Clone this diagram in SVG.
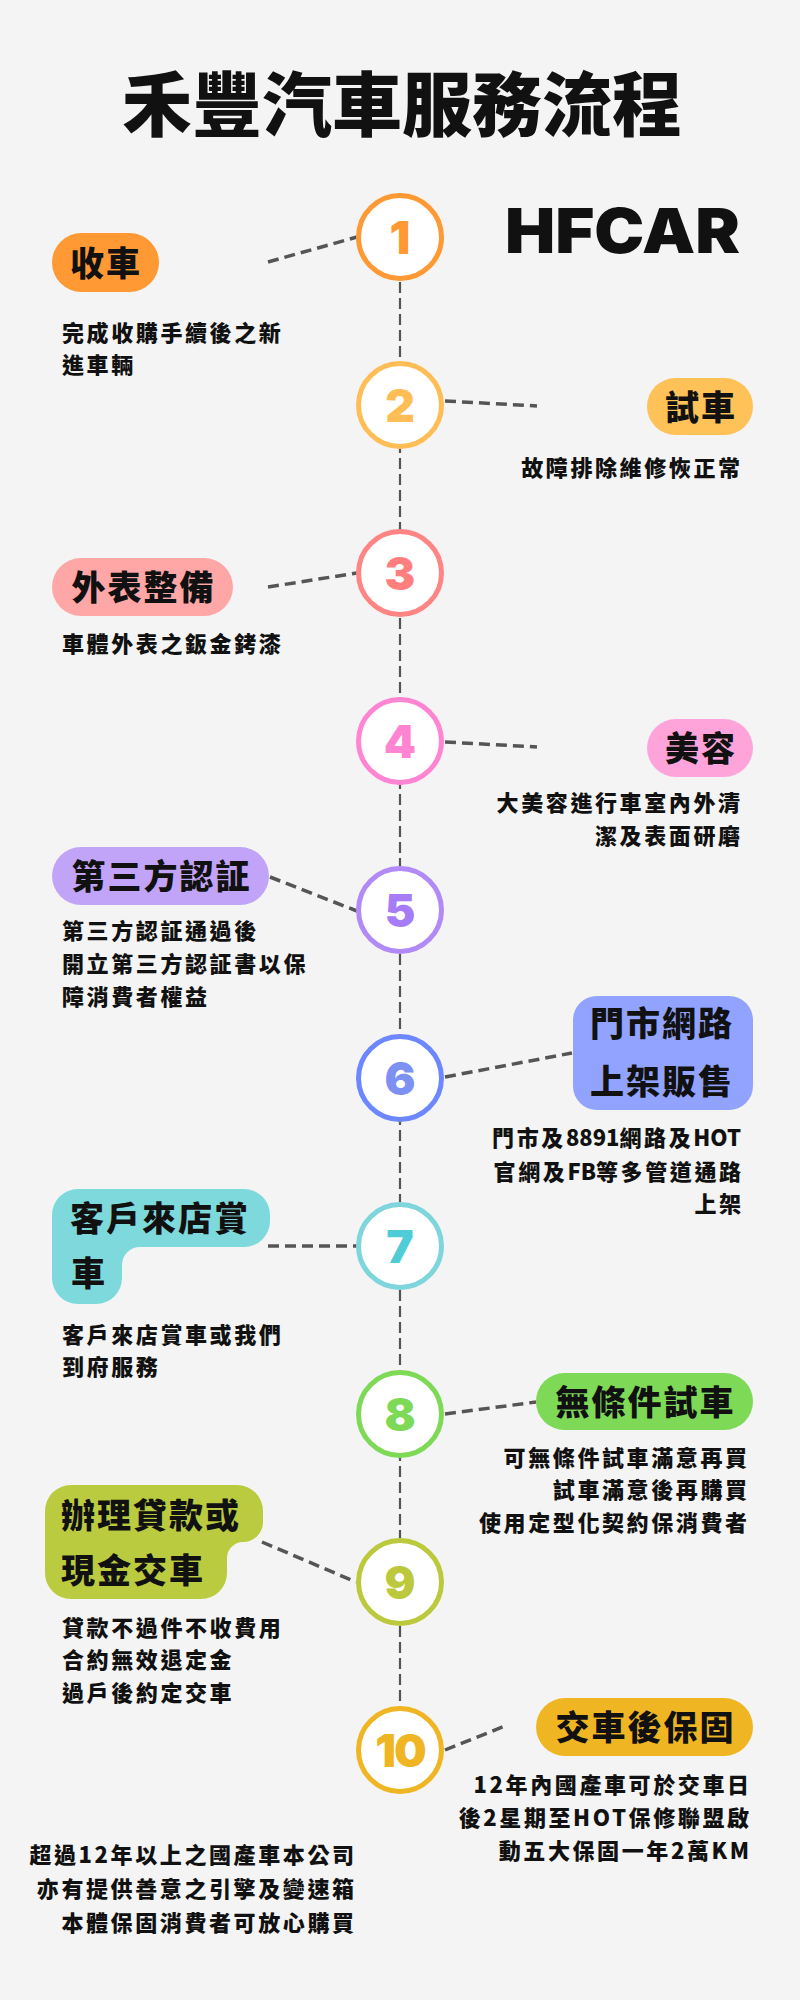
<svg xmlns="http://www.w3.org/2000/svg" width="800" height="2000" viewBox="0 0 800 2000">
<style>
.cjk{font-family:"Noto Sans CJK TC","Noto Sans CJK SC",sans-serif;font-weight:900;fill:#111}
.title{font-size:70px}
.lab{font-size:34px;letter-spacing:2px;text-anchor:middle}
.labl{font-size:34px;letter-spacing:2px}
.desc{font-size:22px;letter-spacing:2.6px}
.end{text-anchor:end}
.tight{letter-spacing:0px}
.num{font-family:Inter,"Liberation Sans",sans-serif;font-weight:900;font-size:46px;text-anchor:middle}
.circ{fill:#fff;stroke-width:5}
.conn{stroke:#555;stroke-width:3.5;stroke-dasharray:11 6;fill:none}
.vline{stroke:#555;stroke-width:2.2;stroke-dasharray:11 5;fill:none}
</style>
<rect width="800" height="2000" fill="#f4f4f4"/>
<text class="cjk title" x="402" y="131" text-anchor="middle">禾豐汽車服務流程</text>
<text x="505" y="253" font-family="Inter,'Liberation Sans',sans-serif" font-weight="900" font-size="62" fill="#111" textLength="235" lengthAdjust="spacingAndGlyphs">HFCAR</text>

<g id="connectors">
<line class="vline" x1="400" y1="282" x2="400" y2="1707"/>
<line class="conn" x1="268" y1="262" x2="357" y2="237"/>
<line class="conn" x1="445" y1="401" x2="537" y2="406"/>
<line class="conn" x1="268" y1="587" x2="357" y2="573"/>
<line class="conn" x1="445" y1="742" x2="537" y2="747"/>
<line class="conn" x1="270" y1="877" x2="357" y2="911"/>
<line class="conn" x1="445" y1="1077" x2="572" y2="1053"/>
<line class="conn" x1="268" y1="1246" x2="357" y2="1246"/>
<line class="conn" x1="445" y1="1414" x2="536" y2="1402"/>
<line class="conn" x1="262" y1="1542" x2="356" y2="1582"/>
<line class="conn" x1="445" y1="1750" x2="505" y2="1726"/>
</g>

<g id="step1">
<circle class="circ" cx="400" cy="237" r="41.5" stroke="#FF9933"/>
<text class="num" x="400" y="254" fill="#FF9933">1</text>
<rect x="52" y="233" width="107" height="59" rx="29.5" fill="#FF9933"/>
<text class="cjk lab" x="106" y="276">收車</text>
<text class="cjk desc" x="62" y="341">完成收購手續後之新</text>
<text class="cjk desc" x="62" y="373">進車輛</text>
</g>

<g id="step2">
<circle class="circ" cx="400" cy="405" r="41.5" stroke="#FFBE55"/>
<text class="num" x="400" y="422" fill="#FFBE55">2</text>
<rect x="647" y="378" width="106" height="57" rx="28.5" fill="#FFC259"/>
<text class="cjk lab" x="701" y="419.5">試車</text>
<text class="cjk desc end" x="742.6" y="476">故障排除維修恢正常</text>
</g>

<g id="step3">
<circle class="circ" cx="400" cy="573" r="41.5" stroke="#FF8585"/>
<text class="num" x="400" y="590" fill="#FF7F7F">3</text>
<rect x="52" y="558" width="181" height="58" rx="29" fill="#FFA6A6"/>
<text class="cjk lab" x="143.5" y="600">外表整備</text>
<text class="cjk desc" x="62" y="652">車體外表之鈑金銬漆</text>
</g>

<g id="step4">
<circle class="circ" cx="400" cy="741" r="41.5" stroke="#FF85D3"/>
<text class="num" x="400" y="758" fill="#FF85D3">4</text>
<rect x="647" y="719" width="106" height="58" rx="29" fill="#FFA3DB"/>
<text class="cjk lab" x="701" y="761">美容</text>
<text class="cjk desc end" x="742.6" y="811">大美容進行車室內外清</text>
<text class="cjk desc end" x="742.6" y="844">潔及表面研磨</text>
</g>

<g id="step5">
<circle class="circ" cx="400" cy="910" r="41.5" stroke="#B28AF7"/>
<text class="num" x="400" y="927" fill="#A67CF7">5</text>
<rect x="52" y="847" width="217" height="58" rx="29" fill="#C1A3F7"/>
<text class="cjk lab" x="161.5" y="889">第三方認証</text>
<text class="cjk desc" x="62" y="939">第三方認証通過後</text>
<text class="cjk desc" x="62" y="972">開立第三方認証書以保</text>
<text class="cjk desc" x="62" y="1005">障消費者權益</text>
</g>

<g id="step6">
<circle class="circ" cx="400" cy="1078" r="41.5" stroke="#6C87FF"/>
<text class="num" x="400" y="1095" fill="#7D91F3">6</text>
<rect x="573" y="996" width="180" height="114" rx="24" fill="#91A3FF"/>
<text class="cjk labl" x="590" y="1036">門市網路</text>
<text class="cjk labl" x="590" y="1094">上架販售</text>
<text class="cjk desc end" x="741" y="1146">門市及<tspan class="tight">8891</tspan>網路及<tspan class="tight">HOT</tspan></text>
<text class="cjk desc end" x="743.6" y="1180">官網及<tspan class="tight">FB</tspan>等多管道通路</text>
<text class="cjk desc end" x="743.6" y="1212">上架</text>
</g>

<g id="step7">
<circle class="circ" cx="400" cy="1246" r="41.5" stroke="#7ED6DC"/>
<text class="num" x="400" y="1263" fill="#4FCCD6">7</text>
<path d="M78,1189 H244 A26,26 0 0 1 270,1215 V1221 A26,26 0 0 1 244,1247 H140 A18,18 0 0 0 122,1265 V1278 A26,26 0 0 1 96,1304 H78 A26,26 0 0 1 52,1278 V1215 A26,26 0 0 1 78,1189 Z" fill="#7ED9DC"/>
<text class="cjk labl" x="70" y="1231">客戶來店賞</text>
<text class="cjk labl" x="71" y="1286">車</text>
<text class="cjk desc" x="62" y="1343">客戶來店賞車或我們</text>
<text class="cjk desc" x="62" y="1375">到府服務</text>
</g>

<g id="step8">
<circle class="circ" cx="400" cy="1414" r="41.5" stroke="#7ED957"/>
<text class="num" x="400" y="1431" fill="#7ED957">8</text>
<rect x="536" y="1373" width="217" height="57" rx="28.5" fill="#7ED957"/>
<text class="cjk lab" x="645.5" y="1414.5">無條件試車</text>
<text class="cjk desc end" x="749.6" y="1466">可無條件試車滿意再買</text>
<text class="cjk desc end" x="749.6" y="1498">試車滿意後再購買</text>
<text class="cjk desc end" x="749.6" y="1531">使用定型化契約保消費者</text>
</g>

<g id="step9">
<circle class="circ" cx="400" cy="1582" r="41.5" stroke="#BCC93C"/>
<text class="num" x="400" y="1599" fill="#BCC93C">9</text>
<path d="M71,1485 H237 A26,26 0 0 1 263,1511 V1522 A20,20 0 0 1 243,1542 A16,16 0 0 0 227,1558 V1573 A26,26 0 0 1 201,1599 H71 A26,26 0 0 1 45,1573 V1511 A26,26 0 0 1 71,1485 Z" fill="#BBCB3F"/>
<text class="cjk labl" x="61" y="1528">辦理貸款或</text>
<text class="cjk labl" x="61" y="1583">現金交車</text>
<text class="cjk desc" x="62" y="1636">貸款不過件不收費用</text>
<text class="cjk desc" x="62" y="1668">合約無效退定金</text>
<text class="cjk desc" x="62" y="1701">過戶後約定交車</text>
</g>

<g id="step10">
<circle class="circ" cx="400" cy="1750" r="41.5" stroke="#F0B522"/>
<text class="num" x="400" y="1767" fill="#F0B522" letter-spacing="-2">10</text>
<rect x="536" y="1698" width="217" height="58" rx="29" fill="#F0B522"/>
<text class="cjk lab" x="645.5" y="1740">交車後保固</text>
<text class="cjk desc end" x="751.6" y="1793">12年內國產車可於交車日</text>
<text class="cjk desc end" x="751.6" y="1826">後2星期至HOT保修聯盟啟</text>
<text class="cjk desc end" x="751.6" y="1859">動五大保固一年2萬KM</text>
</g>

<g id="footer">
<text class="cjk desc end" x="356.6" y="1863">超過12年以上之國產車本公司</text>
<text class="cjk desc end" x="356.6" y="1897">亦有提供善意之引擎及變速箱</text>
<text class="cjk desc end" x="356.6" y="1931">本體保固消費者可放心購買</text>
</g>
</svg>
